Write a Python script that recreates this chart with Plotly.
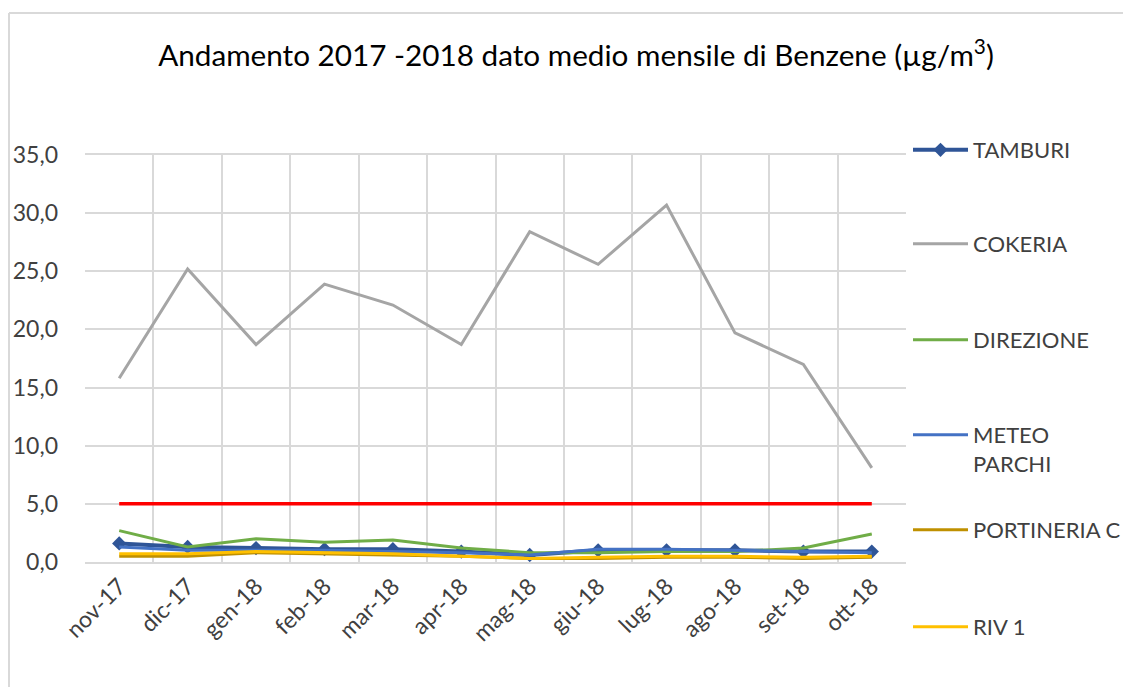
import plotly.graph_objects as go

W, H = 1131, 687
OFF = 8  # page body margin shifts the figure by this much
ML, MR, MT, MB = 85 - OFF, 233, 155 - OFF, 133

mesi = ["nov-17", "dic-17", "gen-18", "feb-18", "mar-18", "apr-18",
        "mag-18", "giu-18", "lug-18", "ago-18", "set-18", "ott-18"]

tamburi     = [1.6, 1.3, 1.2, 1.1, 1.1, 0.9, 0.6, 1.0, 1.0, 1.0, 0.9, 0.9]
cokeria     = [15.8, 25.2, 18.7, 23.9, 22.1, 18.7, 28.4, 25.6, 30.7, 19.7, 17.0, 8.1]
direzione   = [2.7, 1.3, 2.0, 1.7, 1.9, 1.2, 0.8, 0.8, 0.9, 0.9, 1.2, 2.4]
meteo       = [1.3, 1.0, 1.0, 1.0, 0.9, 0.8, 0.6, 1.1, 1.1, 1.0, 0.9, 0.8]
portineria  = [0.5, 0.5, 0.8, 0.7, 0.6, 0.5, 0.3, 0.3, 0.4, 0.4, 0.3, 0.4]
riv1        = [0.7, 0.7, 0.9, 0.8, 0.7, 0.5, 0.3, 0.4, 0.5, 0.5, 0.4, 0.5]
limite      = [5.0] * 12

FONT = "Lato"
TXT = "#404040"

series = [
    ("TAMBURI", tamburi, "#2F5597", 4, True),
    ("COKERIA", cokeria, "#A5A5A5", 3, False),
    ("DIREZIONE", direzione, "#70AD47", 3, False),
    ("METEO<br>PARCHI", meteo, "#4472C4", 3, False),
    ("PORTINERIA C", portineria, "#BF9000", 3, False),
    ("RIV 1", riv1, "#FFC000", 3, False),
]
legend_y = [150, 244, 340, 435, 530, 627]  # text centre (first line), page px

fig = go.Figure()
legend_layout = {}
for i, (name, vals, col, lw, mk) in enumerate(series):
    lname = "legend" if i == 0 else f"legend{i + 1}"
    fig.add_trace(go.Scatter(
        x=mesi, y=vals, name=name,
        mode="lines+markers" if mk else "lines",
        line=dict(color=col, width=lw),
        marker=dict(symbol="diamond", size=11, color=col) if mk else None,
        legend=lname,
    ))
    legend_layout[lname] = dict(
        xref="container", yref="container",
        x=(914 - OFF - 6) / W, y=1 - (legend_y[i] - OFF - 21) / H,
        xanchor="left", yanchor="top",
        valign="top", itemwidth=55,
        font=dict(family=FONT, size=22, color=TXT),
        bgcolor="rgba(0,0,0,0)",
    )

fig.add_trace(go.Scatter(
    x=mesi, y=limite, mode="lines", showlegend=False,
    line=dict(color="#FF0000", width=3.5),
))

# chart frame (top and left edges)
pw, ph = W - ML - MR, H - MT - MB
fx0 = (9 - OFF - ML) / pw
fy0 = (H - MB - (13 - OFF)) / ph
fig.add_shape(type="line", xref="paper", yref="paper", x0=fx0, y0=fy0,
              x1=(W - ML) / pw, y1=fy0, line=dict(color="#D9D9D9", width=2))
fig.add_shape(type="line", xref="paper", yref="paper", x0=fx0, y0=fy0,
              x1=fx0, y1=-MB / ph, line=dict(color="#D9D9D9", width=2))

fig.update_layout(
    width=W, height=H,
    margin=dict(l=ML, r=MR, t=MT, b=MB, autoexpand=False),
    paper_bgcolor="white", plot_bgcolor="white",
    separators=",.",
    font=dict(family=FONT, color=TXT),
    title=dict(
        text="Andamento 2017 -2018 dato medio mensile di Benzene (µg/m<sup>3</sup>)",
        xref="container", yref="container",
        x=(576 - OFF) / W, y=1 - (56 - OFF) / H, xanchor="center", yanchor="middle",
        font=dict(family=FONT, size=29.7, color="#000000"),
    ),
    xaxis=dict(
        type="category", tickson="boundaries", automargin=False,
        range=[-0.5, len(mesi) - 0.5],
        showgrid=True, gridcolor="#D9D9D9", gridwidth=1.5,
        showline=True, linecolor="#D9D9D9", linewidth=1.5, mirror=True,
        ticks="", tickangle=-45,
        tickfont=dict(family=FONT, size=23, color=TXT),
    ),
    yaxis=dict(
        range=[0, 35], dtick=5, tickformat=".1f", automargin=False,
        showgrid=True, gridcolor="#D9D9D9", gridwidth=1.5,
        zeroline=False, showline=False, ticks="",
        ticklabelstandoff=26,
        tickfont=dict(family=FONT, size=23, color=TXT),
    ),
    **legend_layout,
)

fig.write_html("out.html")
